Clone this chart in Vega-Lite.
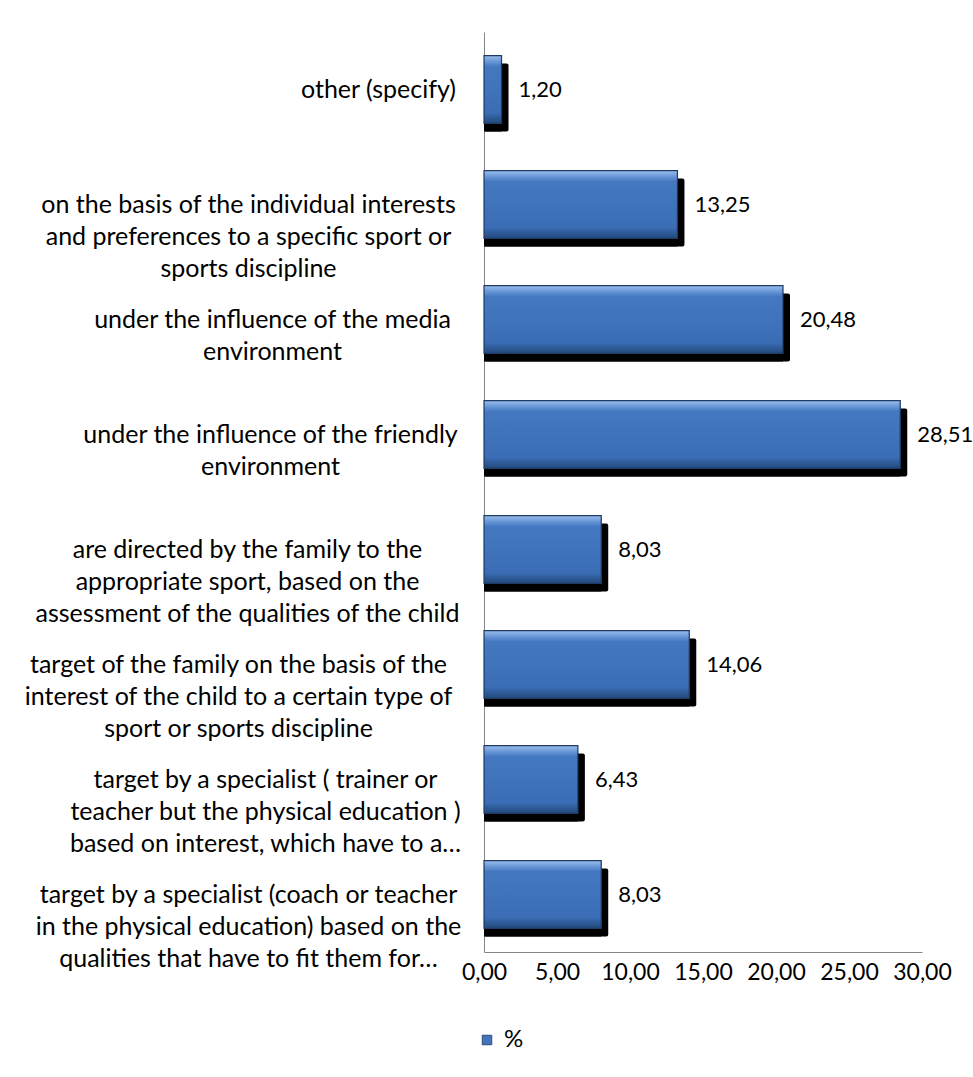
{
  "$schema": "https://vega.github.io/schema/vega-lite/v6.json",
  "autosize": {"type": "none"},
  "width": 438,
  "height": 920,
  "padding": {"left": 484, "top": 32, "right": 51, "bottom": 125},
  "background": "white",
  "config": {
    "view": {"stroke": null},
    "locale": {"number": {"decimal": ",", "thousands": " ", "grouping": [3], "currency": ["", ""]}},
    "font": "Lato"
  },
  "data": {
    "values": [
      {"category": "other (specify)", "value": 1.20, "series": "%"},
      {"category": "on the basis of the individual interests\nand preferences to a specific sport or\nsports discipline", "value": 13.25, "series": "%"},
      {"category": "under the influence of the media\nenvironment", "value": 20.48, "series": "%"},
      {"category": "under the influence of the friendly\nenvironment", "value": 28.51, "series": "%"},
      {"category": "are directed by the family to the\nappropriate sport, based on the\nassessment of the qualities of the child", "value": 8.03, "series": "%"},
      {"category": "target of the family on the basis of the\ninterest of the child  to a certain type of\nsport or sports discipline", "value": 14.06, "series": "%"},
      {"category": "target by a specialist ( trainer or\nteacher but the physical education )\nbased on interest, which have to a…", "value": 6.43, "series": "%"},
      {"category": "target by a specialist (coach or teacher\nin the physical education) based on the\nqualities that have to fit them for…", "value": 8.03, "series": "%"}
    ]
  },
  "encoding": {
    "y": {
      "field": "category",
      "type": "nominal",
      "sort": null,
      "scale": {"paddingInner": 0.41, "paddingOuter": 0.205},
      "axis": {
        "title": null,
        "ticks": false,
        "tickSize": 0,
        "domainColor": "#868686",
        "domainWidth": 1,
        "labelAlign": "center",
        "labelBaseline": "middle",
        "labelPadding": {
          "condition": [
            {"test": "datum.value == 'other (specify)'", "value": 106},
            {"test": "indexof(datum.value, 'on the basis of the individual') >= 0", "value": 236},
            {"test": "indexof(datum.value, 'media') >= 0", "value": 212},
            {"test": "indexof(datum.value, 'friendly') >= 0", "value": 214},
            {"test": "indexof(datum.value, 'are directed') >= 0", "value": 237},
            {"test": "indexof(datum.value, 'target of the family') >= 0", "value": 246},
            {"test": "indexof(datum.value, 'trainer') >= 0", "value": 219}
          ],
          "value": 236
        },
        "labelLimit": 0,
        "labelFont": "Lato",
        "labelFontSize": 25,
        "labelColor": "#000000",
        "labelLineHeight": 32,
        "labelExpr": "split(datum.label, '\\n')"
      }
    },
    "x": {
      "field": "value",
      "type": "quantitative",
      "scale": {"domain": [0, 30], "nice": false},
      "axis": {
        "title": null,
        "values": [0, 5, 10, 15, 20, 25, 30],
        "format": ".2f",
        "grid": false,
        "ticks": false,
        "domainColor": "#868686",
        "domainWidth": 1,
        "labelFont": "Lato",
        "labelFontSize": 23,
        "labelColor": "#000000",
        "labelPadding": 9,
        "labelFlush": false
      }
    }
  },
  "layer": [
    {
      "mark": {"type": "bar", "color": "#000000", "yOffset": 8}
    },
    {
      "mark": {"type": "bar", "color": "#000000", "yOffset": 8, "xOffset": 7, "x2Offset": 0, "cornerRadius": 2},
      "encoding": {
        "x2": {"datum": 0}
      }
    },
    {
      "mark": {"type": "bar"},
      "encoding": {
        "color": {
          "field": "series",
          "type": "nominal",
          "scale": {"range": ["#4275be"]},
          "legend": {
            "title": null,
            "orient": "none",
            "legendX": -9,
            "legendY": 996,
            "symbolType": "square",
            "symbolSize": 90,
            "symbolStrokeColor": "#2c4d75",
            "symbolStrokeWidth": 1,
            "labelFont": "Lato",
            "labelFontSize": 24,
            "labelColor": "#000000",
            "labelOffset": 5
          }
        }
      }
    },
    {
      "mark": {
        "type": "bar",
        "stroke": "#1f3b63",
        "strokeWidth": 1.2,
        "fill": {
          "gradient": "linear",
          "x1": 0, "y1": 0, "x2": 0, "y2": 1,
          "stops": [
            {"offset": 0, "color": "#9cc0ee"},
            {"offset": 0.08, "color": "#6d9ad8"},
            {"offset": 0.16, "color": "#4479c2"},
            {"offset": 0.84, "color": "#3a6db5"},
            {"offset": 0.92, "color": "#2d5a96"},
            {"offset": 1, "color": "#23497d"}
          ]
        }
      }
    },
    {
      "mark": {"type": "text", "align": "left", "baseline": "middle", "dx": 17, "font": "Lato", "fontSize": 22, "color": "#000000"},
      "encoding": {
        "text": {"field": "value", "type": "quantitative", "format": ".2f"}
      }
    }
  ]
}
